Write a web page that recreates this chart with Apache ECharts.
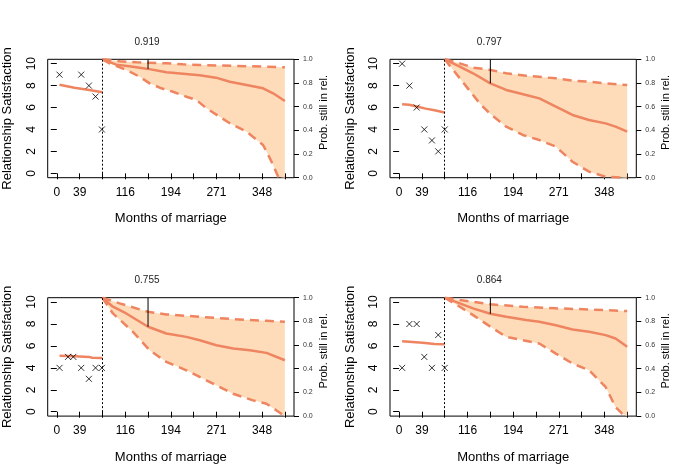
<!DOCTYPE html>
<html><head><meta charset="utf-8">
<script src="https://cdn.jsdelivr.net/npm/echarts@6/dist/echarts.min.js"></script>
<style>html,body{margin:0;padding:0;background:#fff}#c{width:685px;height:476px}</style>
</head><body><div id="c"></div>
<script>
// ---------- data ----------
const xTicks = [0, 38.7, 77.4, 116.1, 154.8, 193.5, 232.2, 270.9, 309.6, 348.3, 387];
const xLabelTicks = [0, 38.7, 116.1, 193.5, 270.9, 348.3];
const ySatTicks = [0, 2, 4, 6, 8, 10];
const eventMonth = 77.4;
const markMonth = 154.8;
const markLabels = [0.919, 0.797, 0.755, 0.864];

// panel 1
const p1Obs = [[4.5, 9], [41.4, 9], [54.4, 8], [65.7, 7], [76.5, 4]];
const p1Fit = [[4.5, 8.07], [30, 7.8], [55, 7.6], [77.4, 7.4]];
const p1Surv = [[77.4, 1], [101, 0.955], [129, 0.937], [154.8, 0.919], [186, 0.89], [214, 0.878], [242.5, 0.865], [270, 0.845], [293.5, 0.811], [321.9, 0.783], [350, 0.755], [367, 0.713], [387, 0.648]];
const p1Upper = [[77.4, 1], [106.6, 0.983], [134.9, 0.975], [185.9, 0.966], [214, 0.958], [242.5, 0.952], [300, 0.945], [350, 0.938], [387, 0.932]];
const p1Lower = [[77.4, 1], [89.6, 0.966], [118, 0.91], [140.5, 0.853], [157.5, 0.797], [177.4, 0.755], [197, 0.726], [219.9, 0.684], [237, 0.656], [253.8, 0.586], [293.5, 0.46], [321.9, 0.389], [350, 0.276], [356, 0.22], [367, 0.107], [375.6, 0.008], [387, 0]];

// panel 2
const p2Obs = [[5.1, 10], [17.4, 8], [29.8, 6], [42.7, 4], [55.7, 3], [66.4, 2], [77.4, 4]];
const p2Fit = [[5.1, 6.3], [17, 6.25], [30, 6.1], [45, 5.9], [60, 5.75], [77.4, 5.55]];
const p2Surv = [[77.4, 1], [102.9, 0.938], [125.4, 0.882], [154.8, 0.797], [181.7, 0.741], [215.4, 0.699], [237.9, 0.67], [266, 0.6], [294.2, 0.53], [322.3, 0.487], [350.4, 0.459], [367.3, 0.431], [387, 0.389]];
const p2Upper = [[77.4, 1], [102.9, 0.966], [125.4, 0.93], [155.2, 0.91], [181.7, 0.882], [215.4, 0.862], [266, 0.839], [294.2, 0.82], [322.3, 0.811], [350.4, 0.797], [387, 0.783]];
const p2Lower = [[77.4, 1], [91.7, 0.91], [114.2, 0.769], [136.7, 0.628], [153.5, 0.544], [181.7, 0.431], [209.8, 0.361], [237.9, 0.318], [266, 0.262], [294.2, 0.135], [322.3, 0.051], [350.4, 0.008], [387, 0]];

// panel 3
const p3Obs = [[4.6, 4], [19, 5], [28, 5], [41.4, 4], [54.4, 3], [65.7, 4], [76.5, 4]];
const p3Fit = [[4.6, 5.1], [30, 5.05], [55, 5.0], [60, 4.92], [77.4, 4.9]];
const p3Surv = [[77.4, 1], [95.2, 0.924], [117.8, 0.867], [154.8, 0.755], [185.8, 0.698], [219.8, 0.669], [242.5, 0.641], [270.8, 0.599], [299.2, 0.571], [327.5, 0.556], [355.8, 0.534], [387, 0.472]];
const p3Upper = [[77.4, 1], [106.5, 0.952], [154.7, 0.881], [185.8, 0.859], [242.5, 0.839], [299.2, 0.819], [355.8, 0.805], [387, 0.797]];
const p3Lower = [[77.4, 1], [95.2, 0.867], [129.2, 0.712], [157.5, 0.556], [185.8, 0.458], [219.8, 0.387], [253.8, 0.302], [299.2, 0.189], [333.1, 0.133], [355.8, 0.105], [372.8, 0.048], [387, 0]];

// panel 4
const p4Obs = [[5.1, 4], [17.4, 8], [29.8, 8], [42.7, 5], [55.7, 4], [66.4, 7], [77.4, 4]];
const p4Fit = [[5.1, 6.42], [40, 6.3], [60, 6.17], [77.4, 6.15]];
const p4Surv = [[77.4, 1], [102.9, 0.952], [125.4, 0.91], [154.8, 0.864], [181.7, 0.839], [215.4, 0.811], [237.9, 0.797], [266, 0.768], [294.2, 0.732], [322.3, 0.712], [350.4, 0.684], [367.3, 0.655], [387, 0.585]];
const p4Upper = [[77.4, 1], [102.9, 0.98], [125.4, 0.966], [155.2, 0.944], [209.8, 0.924], [266, 0.91], [322.3, 0.901], [387, 0.887]];
const p4Lower = [[77.4, 1], [102.9, 0.924], [125.4, 0.853], [155.2, 0.754], [181.7, 0.669], [209.8, 0.641], [237.9, 0.613], [266, 0.528], [294.2, 0.444], [322.3, 0.387], [350.4, 0.246], [367.3, 0.076], [378.5, 0.02], [387, 0]];

// ---------- layout / style ----------
const FONT = 'Liberation Sans, Arial, sans-serif';
const LINE = '#EF8460';
const FILL = '#FEDCBA';
const BOX_W = 246.3, BOX_H = 118.4;
const layout = [
  { left: 47.7, top: 59.3 },
  { left: 390, top: 59.3 },
  { left: 47.7, top: 297.7 },
  { left: 390, top: 297.7 }
];
const panels = [
  { obs: p1Obs, fit: p1Fit, surv: p1Surv, upper: p1Upper, lower: p1Lower },
  { obs: p2Obs, fit: p2Fit, surv: p2Surv, upper: p2Upper, lower: p2Lower },
  { obs: p3Obs, fit: p3Fit, surv: p3Surv, upper: p3Upper, lower: p3Lower },
  { obs: p4Obs, fit: p4Fit, surv: p4Surv, upper: p4Upper, lower: p4Lower }
];

const grid = [], xAxis = [], yAxis = [], series = [], graphic = [];
panels.forEach((p, i) => {
  const L = layout[i];
  grid.push({ left: L.left, top: L.top, width: BOX_W, height: BOX_H, show: true, borderColor: '#000', borderWidth: 1, backgroundColor: 'transparent' });
  xAxis.push({
    gridIndex: i, type: 'value', min: -15.48, max: 402.48,
    axisLine: { show: false }, splitLine: { show: false },
    axisTick: { show: true, customValues: xTicks, length: 6, lineStyle: { color: '#000' } },
    axisLabel: { customValues: xLabelTicks, formatter: v => String(Math.round(v)), fontSize: 12, color: '#000', margin: 9, fontFamily: FONT }
  });
  yAxis.push({
    gridIndex: i, type: 'value', min: -0.4, max: 10.4, position: 'left',
    axisLine: { show: false }, splitLine: { show: false },
    axisTick: { show: true, customValues: ySatTicks, length: 6, lineStyle: { color: '#000' } },
    axisLabel: { customValues: ySatTicks, rotate: 90, fontSize: 12, color: '#000', margin: 10, fontFamily: FONT }
  });
  yAxis.push({
    gridIndex: i, type: 'value', min: 0, max: 1, interval: 0.2, position: 'right',
    axisLine: { show: false }, splitLine: { show: false },
    axisTick: { show: true, length: 5, lineStyle: { color: '#000' } },
    axisLabel: { formatter: v => v.toFixed(1), fontSize: 7, color: '#333', margin: 9, fontFamily: FONT }
  });
  const yl = 2 * i, yr = 2 * i + 1;
  // confidence band
  series.push({
    type: 'custom', xAxisIndex: i, yAxisIndex: yr, silent: true, z: 1,
    data: [[eventMonth, 1]],
    renderItem: (params, api) => {
      const pts = p.upper.map(d => api.coord(d)).concat(p.lower.slice().reverse().map(d => api.coord(d)));
      return { type: 'polygon', shape: { points: pts }, style: { fill: FILL } };
    }
  });
  series.push({ type: 'line', xAxisIndex: i, yAxisIndex: yr, data: p.upper, showSymbol: false, z: 3,
    lineStyle: { color: LINE, width: 2.5, type: [9, 6] } });
  series.push({ type: 'line', xAxisIndex: i, yAxisIndex: yr, data: p.lower, showSymbol: false, z: 3,
    lineStyle: { color: LINE, width: 2.5, type: [9, 6] } });
  series.push({ type: 'line', xAxisIndex: i, yAxisIndex: yr, data: p.surv, showSymbol: false, z: 3,
    lineStyle: { color: LINE, width: 2.5 } });
  series.push({ type: 'line', xAxisIndex: i, yAxisIndex: yl, data: p.fit, showSymbol: false, z: 3,
    lineStyle: { color: LINE, width: 2.5 } });
  series.push({
    type: 'scatter', xAxisIndex: i, yAxisIndex: yl, data: p.obs, z: 4,
    symbol: 'path://M0,0L10,10M10,0L0,10', symbolSize: 6,
    itemStyle: { color: 'none', borderColor: '#000', borderWidth: 1 },
    markLine: { silent: true, symbol: ['none', 'none'], label: { show: false },
      lineStyle: { color: '#000', type: [2, 2], width: 1 }, data: [{ xAxis: eventMonth }] }
  });
  series.push({
    type: 'custom', xAxisIndex: i, yAxisIndex: yr, silent: true, z: 5, clip: false,
    data: [[markMonth, markLabels[i]]],
    renderItem: (params, api) => {
      const a = api.coord([api.value(0), api.value(1)]);
      const b = api.coord([api.value(0), 1]);
      return { type: 'group', children: [
        { type: 'line', shape: { x1: a[0], y1: a[1], x2: b[0], y2: b[1] }, style: { stroke: '#000', lineWidth: 1 } },
        { type: 'text', x: b[0] - 1, y: b[1] - 17, style: { text: markLabels[i].toFixed(3), fontSize: 10, fill: '#222', align: 'center', verticalAlign: 'middle', fontFamily: FONT } }
      ] };
    }
  });
  // axis titles
  const cx = L.left + BOX_W / 2, cy = L.top + BOX_H / 2;
  graphic.push({ type: 'text', x: cx, y: L.top + BOX_H + 41, style: { text: 'Months of marriage', fontSize: 13, fill: '#000', align: 'center', verticalAlign: 'middle', fontFamily: FONT } });
  graphic.push({ type: 'text', x: L.left - 40, y: cy, rotation: Math.PI / 2, style: { text: 'Relationship Satisfaction', fontSize: 13, fill: '#000', align: 'center', verticalAlign: 'middle', fontFamily: FONT } });
  graphic.push({ type: 'text', x: L.left + BOX_W + 30, y: cy - 6, rotation: Math.PI / 2, style: { text: 'Prob. still in rel.', fontSize: 11, fill: '#000', align: 'center', verticalAlign: 'middle', fontFamily: FONT } });
});

const chart = echarts.init(document.getElementById('c'), null, { renderer: 'canvas' });
chart.setOption({ animation: false, backgroundColor: '#fff', textStyle: { fontFamily: FONT }, grid, xAxis, yAxis, series, graphic });
</script></body></html>
